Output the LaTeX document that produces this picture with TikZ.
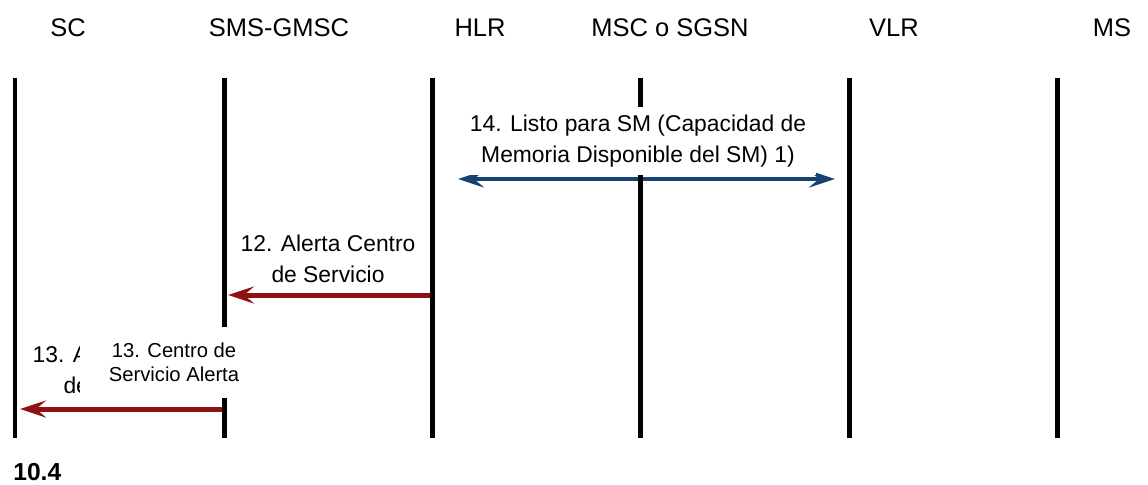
\documentclass[tikz,border=0pt]{standalone}
\usepackage{fontspec}
\setmainfont{Liberation Sans}
\usetikzlibrary{arrows.meta,positioning,calc}
\definecolor{msgred}{RGB}{140,18,22}
\definecolor{msgblue}{RGB}{22,66,116}

\begin{document}
\begin{tikzpicture}[x=0.02cm,y=-0.02cm,>={Stealth[length=0.52cm,width=0.34cm,inset=0.2cm]}]
\tikzstyle{ent}=[font=\fontsize{14.5}{17}\selectfont,anchor=base,inner sep=0pt]
\tikzstyle{life}=[line width=0.1cm]
\tikzstyle{msg}=[font=\fontsize{13}{17.5}\selectfont,align=center,inner sep=0pt]
\tikzstyle{redmsg}=[->,draw=msgred,line width=0.1cm]
\useasboundingbox (0,0) rectangle (1148,484);
% message ends
\coordinate (a14l) at (458,179); \coordinate (a14r) at (835,179);
\coordinate (a12s) at (432,295); \coordinate (a12e) at (228,295);
\coordinate (a13s) at (224,409); \coordinate (a13e) at (20,409);
\draw[<->,draw=msgblue,line width=0.08cm] (a14l) -- (a14r);
\draw[redmsg] (a12s) -- (a12e);
\draw[redmsg] (a13s) -- (a13e);
% entities and lifelines
\foreach \n/\x/\hx/\t in {sc/15/68/SC,gmsc/224/279/SMS-GMSC,hlr/432/480/HLR,msc/640/670/{MSC o SGSN},vlr/849/894/VLR,ms/1057/1112/MS} {
  \node[ent] (\n) at (\hx,36) {\t};
  \coordinate (\n-t) at (\x,78); \coordinate (\n-b) at (\x,438);
  \draw[life] (\n-t) -- (\n-b);
}
\node[msg,fill=white,inner xsep=0.2cm,minimum height=1.36cm] (msg14) at (638,141) {14. Listo para SM (Capacidad de\\ Memoria Disponible del SM) 1)};
\node[msg] (msg12) at (328,259) {12. Alerta Centro\\ de Servicio};
\node[msg] (msg13) at (120,369.5) {13. Alerta Centro\\ de Servicio};
\node[fill=white,align=center,inner sep=0pt,minimum width=3.76cm,minimum height=1.42cm,font=\fontsize{11.5}{13.6}\selectfont] (alert) at (174,362.5) {13. Centro de\\ Servicio Alerta};
\node[anchor=base west,inner sep=0pt,font=\bfseries\fontsize{14}{17}\selectfont] (fig) at (13,480) {10.4};
\end{tikzpicture}
\end{document}
